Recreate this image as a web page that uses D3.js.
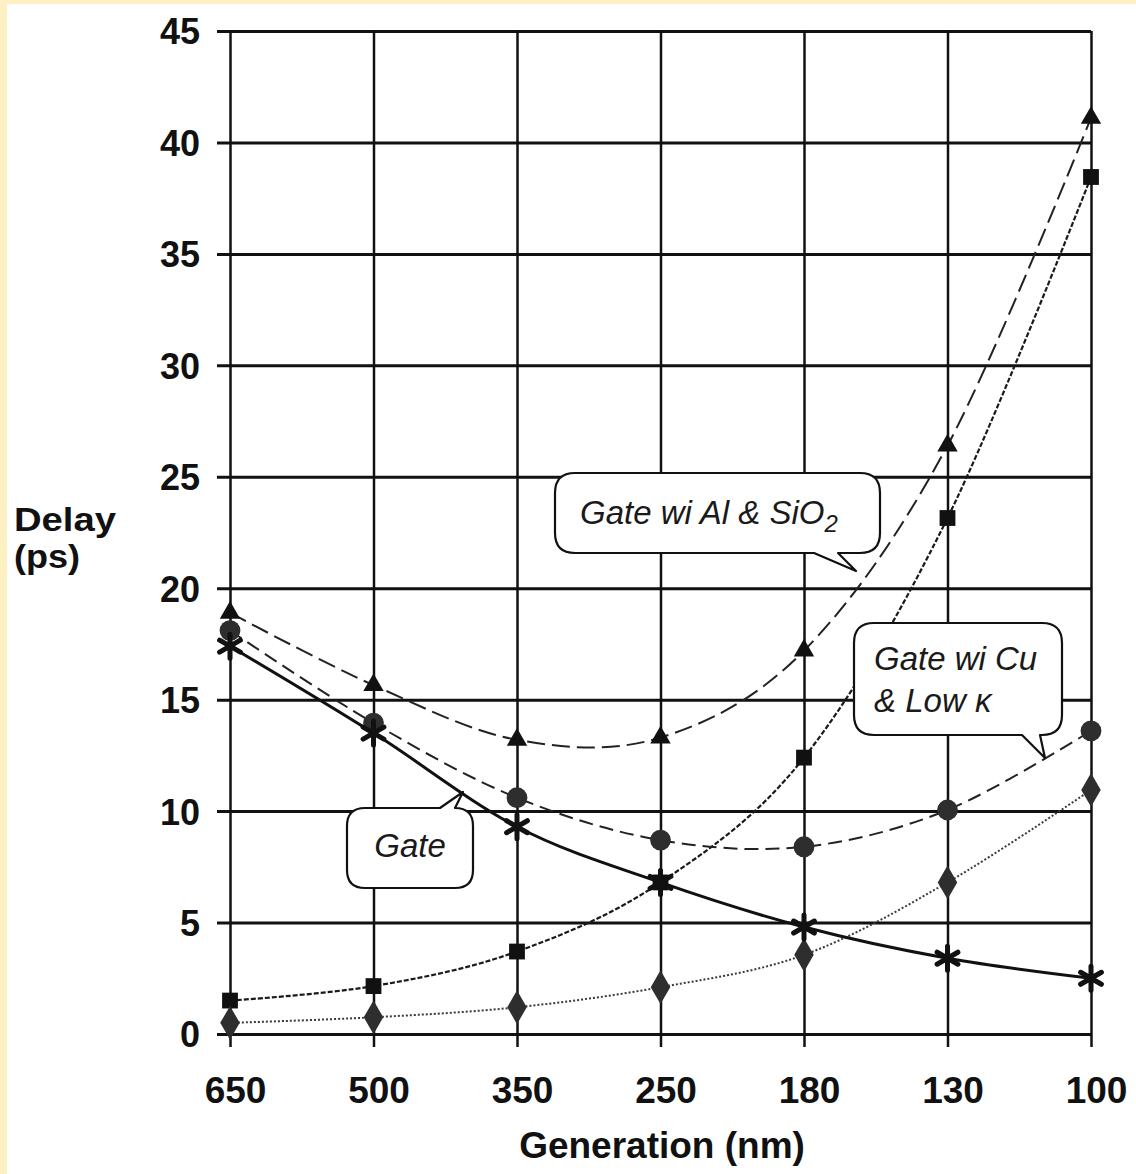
<!DOCTYPE html>
<html>
<head>
<meta charset="utf-8">
<script src="https://cdn.jsdelivr.net/npm/d3@7/dist/d3.min.js"></script>
<style>
  html, body { margin: 0; padding: 0; background: #fff; }
  svg { display: block; }
</style>
</head>
<body>
<div id="chart"></div>
<script>
// ---- data ----
const generations = ["650", "500", "350", "250", "180", "130", "100"];
const yTicks = [0, 5, 10, 15, 20, 25, 30, 35, 40, 45];

const gateDelay   = [17.4, 13.5, 9.3, 6.8, 4.8, 3.4, 2.5];
const gateAlSiO2  = [18.9, 15.65, 13.2, 13.3, 17.2, 26.4, 41.1];
const gateCuLowK  = [18.1, 13.95, 10.6, 8.7, 8.4, 10.05, 13.6];
const alSiO2      = [1.5, 2.15, 3.7, 6.8, 12.4, 23.15, 38.45];
const cuLowK      = [0.5, 0.75, 1.2, 2.1, 3.55, 6.8, 10.95];

const svgWidth = 1136;
const svgHeight = 1174;

const plot = { left: 230, right: 1091, top: 31, bottom: 1034 };

const svg = d3.select("#chart")
    .append("svg")
    .attr("width", svgWidth)
    .attr("height", svgHeight);

// cream frame at left / top, white page
svg.append("rect").attr("width", svgWidth).attr("height", svgHeight).attr("fill", "#fdf0c2");
svg.append("rect").attr("x", 7).attr("y", 4)
    .attr("width", svgWidth - 7).attr("height", svgHeight - 4).attr("fill", "#fff");

const x = d3.scalePoint().domain(generations).range([plot.left, plot.right]);
const y = d3.scaleLinear().domain([0, 45]).range([plot.bottom, plot.top]);

const fontAxis = "'Liberation Sans', Arial, Helvetica, sans-serif";

// horizontal grid + y tick labels
const yAxis = svg.append("g")
    .attr("transform", `translate(${plot.right},0)`)
    .call(d3.axisLeft(y).tickValues(yTicks).tickSize(plot.right - plot.left + 13).tickPadding(17));
yAxis.select(".domain").remove();
yAxis.selectAll("line").attr("stroke", "#111").attr("stroke-width", 3);
yAxis.selectAll("text")
    .attr("fill", "#111")
    .attr("dy", "0.36em")
    .style("font", `bold 36px ${fontAxis}`);

// vertical grid + x tick labels
const xAxis = svg.append("g")
    .attr("transform", `translate(0,${plot.top})`)
    .call(d3.axisBottom(x).tickSize(plot.bottom - plot.top + 13));
xAxis.select(".domain").remove();
xAxis.selectAll("line").attr("stroke", "#111").attr("stroke-width", 2.5);
xAxis.selectAll("text")
    .attr("fill", "#111")
    .attr("y", 1103 - plot.top)
    .attr("dy", 0)
    .attr("dx", 5)
    .style("font", `bold 37px ${fontAxis}`);

// axis titles
svg.append("text")
    .attr("x", 662).attr("y", 1158)
    .attr("text-anchor", "middle")
    .attr("fill", "#111")
    .style("font", `bold 37px ${fontAxis}`)
    .text("Generation (nm)");

svg.append("text")
    .attr("x", 14).attr("y", 531)
    .attr("fill", "#111")
    .attr("textLength", 102)
    .attr("lengthAdjust", "spacingAndGlyphs")
    .style("font", `bold 33px ${fontAxis}`)
    .text("Delay");
svg.append("text")
    .attr("x", 14).attr("y", 568)
    .attr("fill", "#111")
    .attr("textLength", 66)
    .attr("lengthAdjust", "spacingAndGlyphs")
    .style("font", `bold 33px ${fontAxis}`)
    .text("(ps)");

// ---- series ----
const series = [
    { values: alSiO2,     marker: "square",   dash: "5,2",   width: 2.2, color: "#1a1a1a" },
    { values: cuLowK,     marker: "diamond",  dash: "2,2",   width: 2,   color: "#3a3a3a" },
    { values: gateCuLowK, marker: "circle",   dash: "14,7",  width: 2,   color: "#222" },
    { values: gateAlSiO2, marker: "triangle", dash: "18,7",  width: 2,   color: "#222" },
    { values: gateDelay,  marker: "star",     dash: null,    width: 3,   color: "#111" }
];

const line = d3.line()
    .x((d, i) => x(generations[i]))
    .y(d => y(d))
    .curve(d3.curveCardinal);

const symbols = {
    square: d3.symbol(d3.symbolSquare, 250),
    triangle: d3.symbol(d3.symbolTriangle, 180),
    circle: d3.symbol(d3.symbolCircle, 340),
    diamond: d3.symbol(d3.symbolDiamond, 330)
};

// asterisk star marker
function starPath(r) {
    let p = "";
    for (let k = 0; k < 3; k++) {
        const a = Math.PI / 2 + k * Math.PI / 3;
        p += `M${-r * Math.cos(a)},${-r * Math.sin(a)}L${r * Math.cos(a)},${r * Math.sin(a)}`;
    }
    return p;
}

series.forEach(s => {
    svg.append("path")
        .datum(s.values)
        .attr("d", line)
        .attr("fill", "none")
        .attr("stroke", s.color)
        .attr("stroke-width", s.width)
        .attr("stroke-dasharray", s.dash);
});

series.forEach(s => {
    const g = svg.append("g");
    const pts = g.selectAll("path")
        .data(s.values)
        .enter()
        .append("path")
        .attr("transform", (d, i) => `translate(${x(generations[i])},${y(d)})`);
    if (s.marker === "star") {
        pts.attr("d", starPath(12))
            .attr("fill", "none")
            .attr("stroke", "#111")
            .attr("stroke-width", 5)
            .attr("stroke-linecap", "round");
    } else {
        pts.attr("d", symbols[s.marker]())
            .attr("fill", s.marker === "circle" || s.marker === "diamond" ? "#2e2e2e" : "#111");
    }
});

// ---- callouts ----
function calloutPath(b) {
    const { x0, y0, x1, y1, r, tail } = b;
    if (tail.edge === "bottom") {
        return `M${x0 + r},${y0}H${x1 - r}Q${x1},${y0} ${x1},${y0 + r}V${y1 - r}Q${x1},${y1} ${x1 - r},${y1}` +
            `H${tail.b}L${tail.tx},${tail.ty}L${tail.a},${y1}` +
            `H${x0 + r}Q${x0},${y1} ${x0},${y1 - r}V${y0 + r}Q${x0},${y0} ${x0 + r},${y0}Z`;
    }
    return `M${x0 + r},${y0}H${tail.a}L${tail.tx},${tail.ty}L${tail.b},${y0}` +
        `H${x1 - r}Q${x1},${y0} ${x1},${y0 + r}V${y1 - r}Q${x1},${y1} ${x1 - r},${y1}` +
        `H${x0 + r}Q${x0},${y1} ${x0},${y1 - r}V${y0 + r}Q${x0},${y0} ${x0 + r},${y0}Z`;
}

const callouts = [
    { x0: 555, y0: 473, x1: 880, y1: 553, r: 20,
      tail: { edge: "bottom", a: 814, b: 838, tx: 856, ty: 571 } },
    { x0: 854, y0: 623, x1: 1062, y1: 735, r: 20,
      tail: { edge: "bottom", a: 1022, b: 1040, tx: 1045, ty: 758 } },
    { x0: 347, y0: 808, x1: 473, y1: 888, r: 18,
      tail: { edge: "top", a: 440, b: 455, tx: 463, ty: 792 } }
];

svg.selectAll(".callout")
    .data(callouts)
    .enter()
    .append("path")
    .attr("class", "callout")
    .attr("d", calloutPath)
    .attr("fill", "#fff")
    .attr("stroke", "#111")
    .attr("stroke-width", 2.2)
    .attr("stroke-linejoin", "round");

const fontNote = `italic 33px ${fontAxis}`;

const t1 = svg.append("text").attr("x", 580).attr("y", 524)
    .attr("fill", "#1a1a1a").style("font", fontNote);
t1.append("tspan").text("Gate wi Al & SiO");
t1.append("tspan").attr("dy", 8).style("font-size", "24px").text("2");

const t2 = svg.append("text").attr("fill", "#1a1a1a").style("font", fontNote);
t2.append("tspan").attr("x", 874).attr("y", 670).text("Gate wi Cu");
t2.append("tspan").attr("x", 874).attr("y", 712).text("& Low \u03ba");

svg.append("text").attr("x", 410).attr("y", 857)
    .attr("text-anchor", "middle")
    .attr("fill", "#1a1a1a").style("font", fontNote)
    .text("Gate");
</script>
</body>
</html>
